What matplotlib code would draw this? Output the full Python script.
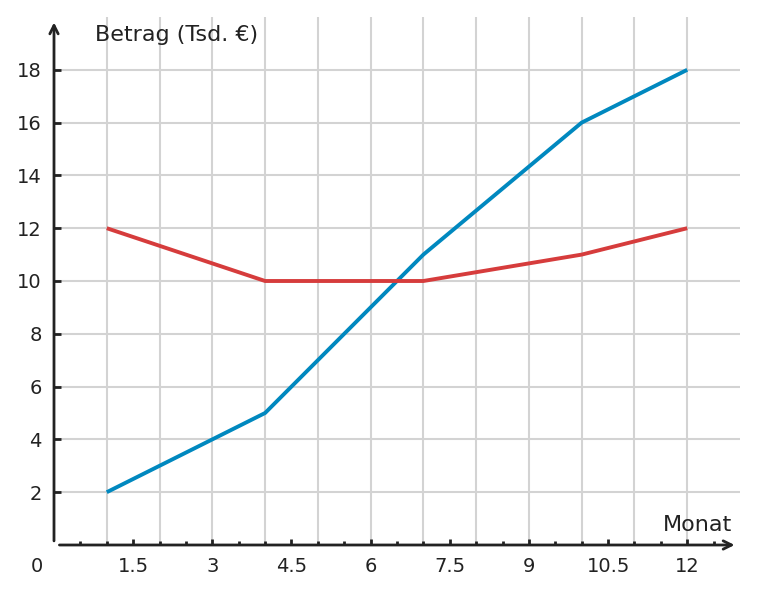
import matplotlib
matplotlib.use("Agg")
import matplotlib.pyplot as plt
import numpy as np

months = [1, 4, 7, 10, 12]
blue_vals = [2, 5, 11, 16, 18]
red_vals = [12, 10, 10, 11, 12]
x_ticks = [1.5, 3, 4.5, 6, 7.5, 9, 10.5, 12]
x_tick_labels = ["1.5", "3", "4.5", "6", "7.5", "9", "10.5", "12"]
y_ticks = [2, 4, 6, 8, 10, 12, 14, 16, 18]

fig = plt.figure(figsize=(7.58, 5.94), dpi=100)
ax = fig.add_axes([54 / 758, 49 / 594, 686 / 758, 528 / 594])
ax.set_xlim(0, 13)
ax.set_ylim(0, 20)

for s in ax.spines.values():
    s.set_visible(False)

# grid
for gx in np.arange(1, 13):
    ax.axvline(gx, color="#d3d3d3", lw=1.5, zorder=0)
for gy in y_ticks:
    ax.axhline(gy, color="#d3d3d3", lw=1.5, zorder=0)

ax.plot(months, blue_vals, color="#0088bf", lw=2.8, solid_capstyle="butt", zorder=3)
ax.plot(months, red_vals, color="#d63c3c", lw=2.8, solid_capstyle="butt", zorder=3)

# axes with arrows
ax.annotate("", xy=(12.95, 0), xytext=(0.05, 0),
            arrowprops=dict(arrowstyle="->", color="#222222", lw=2, mutation_scale=15),
            annotation_clip=False, zorder=4)
ax.annotate("", xy=(0, 19.9), xytext=(0, 0.05),
            arrowprops=dict(arrowstyle="->", color="#222222", lw=2, mutation_scale=15),
            annotation_clip=False, zorder=4)

# ticks
ax.set_xticks(x_ticks)
ax.set_xticklabels(x_tick_labels)
ax.set_xticks(np.arange(0.5, 13, 0.5), minor=True)
ax.set_yticks(y_ticks)
ax.set_yticklabels([str(v) for v in y_ticks])
ax.tick_params(axis="x", which="major", direction="in", length=4, width=2,
               color="#222222", labelsize=14, labelcolor="#222222", pad=9)
ax.tick_params(axis="x", which="minor", direction="in", length=3, width=2, color="#222222")
ax.tick_params(axis="y", which="major", direction="in", length=5, width=2,
               color="#222222", labelsize=14, labelcolor="#222222", pad=9)

ax.text(-0.32, -0.8, "0", ha="center", va="center", fontsize=14, color="#222222")
ax.text(0.78, 19.3, "Betrag (Tsd. €)", ha="left", va="center", fontsize=16, color="#222222")
ax.text(12.85, 0.75, "Monat", ha="right", va="center", fontsize=16, color="#222222")

fig.savefig("out.png", dpi=100)
